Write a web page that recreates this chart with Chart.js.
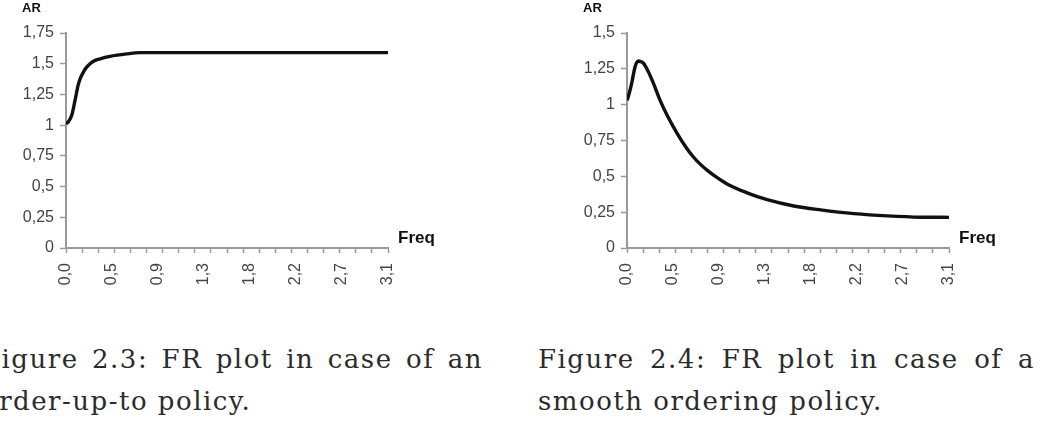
<!DOCTYPE html>
<html>
<head>
<meta charset="utf-8">
<title>FR plots</title>
<script src="https://cdn.jsdelivr.net/npm/chart.js@4.4.0/dist/chart.umd.min.js"></script>
<style>
    body { margin: 0; background: #fff; width: 1053px; height: 430px; overflow: hidden; position: relative; }
    canvas { position: absolute; top: 0; }
    .cap { position: absolute; font-family: "DejaVu Serif", serif; font-size: 26px; letter-spacing: 1.5px; line-height: 42px; color: #2b2b2b; }
    .cap .l1 { text-align: justify; text-align-last: justify; }
    .cap .l2 { white-space: nowrap; }
</style>
</head>
<body>
<canvas id="orderupto" width="470" height="300" style="left:0px"></canvas>
<canvas id="smooth" width="470" height="300" style="left:561px"></canvas>

<div class="cap" style="left:-18px; top:338px; width:501px;">
    <div class="l1">Figure 2.3: FR plot in case of an</div>
    <div class="l2">order-up-to policy.</div>
</div>
<div class="cap" style="left:538px; top:338px; width:497px;">
    <div class="l1">Figure 2.4: FR plot in case of a</div>
    <div class="l2">smooth ordering policy.</div>
</div>

<script>
// values
var leftFreq = [0, 0.025, 0.056, 0.088, 0.12, 0.145, 0.169, 0.2, 0.235, 0.28, 0.333, 0.43, 0.594, 0.724, 1.0, 1.5, 2.0, 2.5, 3.15];
var leftAR = [1.01, 1.03, 1.08, 1.20, 1.33, 1.39, 1.43, 1.47, 1.50, 1.525, 1.54, 1.56, 1.58, 1.59, 1.59, 1.59, 1.59, 1.59, 1.59];

var rightFreq = [0, 0.013, 0.046, 0.079, 0.111, 0.135, 0.16, 0.209, 0.258, 0.324, 0.39, 0.49, 0.58, 0.65, 0.716, 0.78, 0.847, 0.978, 1.175, 1.371, 1.632, 1.894, 2.221, 2.548, 2.875, 3.15];
var rightAR = [1.03, 1.056, 1.15, 1.265, 1.305, 1.30, 1.29, 1.23, 1.15, 1.03, 0.93, 0.80, 0.70, 0.635, 0.585, 0.545, 0.508, 0.447, 0.385, 0.337, 0.293, 0.266, 0.24, 0.224, 0.215, 0.214];

var xTickLabels = ['0,0', '0,5', '0,9', '1,3', '1,8', '2,2', '2,7', '3,1'];
var leftYLabels = ['0', '0,25', '0,5', '0,75', '1', '1,25', '1,5', '1,75'];
var rightYLabels = ['0', '0,25', '0,5', '0,75', '1', '1,25', '1,5'];
var yTitle = 'AR';
var xTitle = 'Freq';

var freqMax = 3.15;
var minorCount = 20;
var axisGray = '#9a9a9a';
var labelFont = { family: '"Liberation Sans", Arial, sans-serif', size: 16 };

// small tick marks every 1/20 of the axis, labels every 1/7
var buildFreqTicks = function (scale) {
    var t = [];
    var i;
    for (i = 0; i <= minorCount; i++) {
        t.push({ value: freqMax * i / minorCount, mark: true, lab: '' });
    }
    for (i = 1; i < xTickLabels.length - 1; i++) {
        t.push({ value: freqMax * i / (xTickLabels.length - 1), mark: false, lab: xTickLabels[i] });
    }
    t[0].lab = xTickLabels[0];
    t[minorCount].lab = xTickLabels[xTickLabels.length - 1];
    t.sort(function (a, b) { return a.value - b.value; });
    scale.ticks = t;
};

var axisNames = {
    id: 'axisNames',
    afterDraw: function (chart) {
        var ctx = chart.ctx;
        var a = chart.chartArea;
        ctx.save();
        ctx.fillStyle = '#111';
        ctx.textBaseline = 'middle';
        ctx.textAlign = 'left';
        ctx.font = 'bold 13px "Liberation Sans", Arial, sans-serif';
        ctx.fillText(yTitle, a.left - 44, 8);
        ctx.font = 'bold 17px "Liberation Sans", Arial, sans-serif';
        ctx.fillText(xTitle, a.right + 10, a.bottom - 10);
        ctx.restore();
    }
};

var makeChart = function (canvasId, freq, ar, yMax, yLabels) {
    var pts = [];
    for (var i = 0; i < freq.length; i++) {
        pts.push({ x: freq[i], y: ar[i] });
    }
    return new Chart(document.getElementById(canvasId), {
        type: 'line',
        data: {
            datasets: [{
                label: yTitle,
                data: pts,
                borderColor: '#111',
                borderWidth: 3.4,
                pointRadius: 0,
                fill: false,
                cubicInterpolationMode: 'monotone'
            }]
        },
        options: {
            responsive: false,
            animation: false,
            layout: { padding: { left: 0, right: 82, top: 33, bottom: 0 } },
            plugins: { legend: { display: false }, tooltip: { enabled: false } },
            scales: {
                x: {
                    type: 'linear',
                    min: 0,
                    max: freqMax,
                    afterBuildTicks: buildFreqTicks,
                    afterFit: function (s) { s.height = 52; },
                    border: { color: axisGray, width: 2 },
                    grid: {
                        drawOnChartArea: false,
                        tickLength: 5,
                        tickWidth: 1.5,
                        tickColor: function (c) {
                            return (c.tick && c.tick.mark) ? axisGray : 'rgba(0,0,0,0)';
                        }
                    },
                    ticks: {
                        autoSkip: false,
                        minRotation: 90,
                        maxRotation: 90,
                        padding: 10,
                        color: '#444',
                        font: labelFont,
                        callback: function (value, index, ticks) { return ticks[index].lab; }
                    }
                },
                y: {
                    min: 0,
                    max: yMax,
                    afterFit: function (s) { s.width = 66; },
                    border: { color: axisGray, width: 2 },
                    grid: { drawOnChartArea: false, tickLength: 6, tickWidth: 1.5, tickColor: axisGray },
                    ticks: {
                        stepSize: 0.25,
                        padding: 6,
                        color: '#444',
                        font: labelFont,
                        callback: function (value, index) { return yLabels[index]; }
                    }
                }
            }
        },
        plugins: [axisNames]
    });
};

makeChart('orderupto', leftFreq, leftAR, 1.75, leftYLabels);
makeChart('smooth', rightFreq, rightAR, 1.5, rightYLabels);
</script>
</body>
</html>
